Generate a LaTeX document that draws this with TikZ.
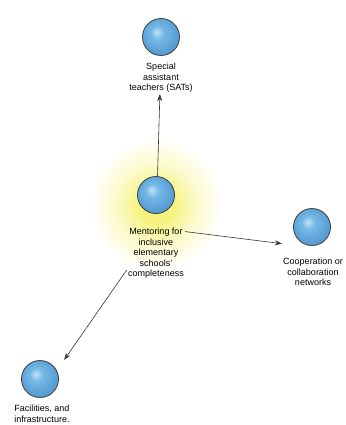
\documentclass[tikz,border=0pt]{standalone}
\usepackage{fontspec}
\setmainfont{Liberation Sans}
\usetikzlibrary{arrows.meta,fit}

\definecolor{balllight}{RGB}{196,226,246}
\definecolor{ballmid}{RGB}{116,184,228}
\definecolor{balledge}{RGB}{86,156,210}
\definecolor{glowc}{RGB}{244,240,100}

\pgfdeclareradialshading{bluesphere}{\pgfpoint{-6bp}{7bp}}{color(0bp)=(balllight); color(9bp)=(ballmid); color(26bp)=(balledge); color(50bp)=(balledge)}
\pgfdeclareradialshading{glow}{\pgfpoint{0bp}{0bp}}{color(0bp)=(glowc); color(7bp)=(glowc!80!white); color(15bp)=(glowc!35!white); color(25bp)=(white); color(50bp)=(white)}

\begin{document}
\begin{tikzpicture}[x=1pt, y=-1pt]

\tikzstyle{ball} = [circle, draw=gray!50!black, line width=.8pt, shading=bluesphere, minimum size=37pt, inner sep=0pt]
\tikzstyle{lbl} = [align=center, font=\fontsize{9}{10.5}\selectfont, inner sep=1pt, anchor=north]
\tikzstyle{grp} = [fit=#1, inner sep=0pt]
\tikzstyle{link} = [-{Stealth[length=7pt,width=5pt]}, line width=.6pt, black!80]

\useasboundingbox (0,0) rectangle (345,425);

% glow round the central concept
\shade[shading=glow] (156,205) circle (66pt);

\node[ball] (sat) at (161,37) {};
\node[lbl] (satlbl) at (161,62) {Special\\assistant\\teachers (SATs)};

\node[ball] (ctr) at (156,195) {};
\node[lbl] (ctrlbl) at (156,227) {Mentoring for\\inclusive\\elementary\\schools'\\completeness};

\node[ball] (coop) at (312,227) {};
\node[lbl] (cooplbl) at (313,257) {Cooperation or\\collaboration\\networks};

\node[ball] (fac) at (40,379) {};
\node[lbl] (faclbl) at (42,404) {Facilities, and\\infrastructure.};

\node[grp={(sat)(satlbl)}] (satgrp) {};
\node[grp={(ctr)(ctrlbl)}] (ctrgrp) {};
\node[grp={(coop)(cooplbl)}] (coopgrp) {};
\node[grp={(fac)(faclbl)}] (facgrp) {};

\draw[link] (ctrgrp) -- (satgrp);
\draw[link] (ctrgrp) -- (coopgrp);
\draw[link] (ctrgrp) -- (facgrp);

\end{tikzpicture}
\end{document}
